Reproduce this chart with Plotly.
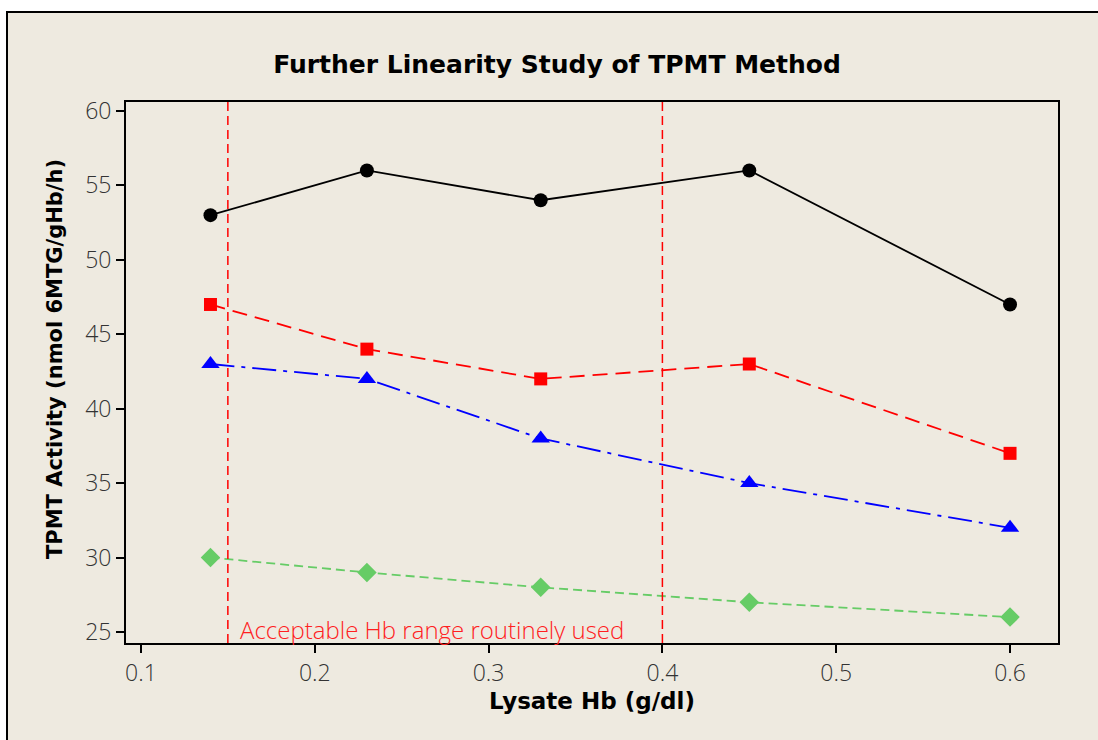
import plotly.graph_objects as go

x_vals = [0.14, 0.23, 0.33, 0.45, 0.60]
black_vals = [53, 56, 54, 56, 47]
red_vals = [47, 44, 42, 43, 37]
blue_vals = [43, 42, 38, 35, 32]
green_vals = [30, 29, 28, 27, 26]
range_lines = [0.15, 0.40]
x_ticks = [0.1, 0.2, 0.3, 0.4, 0.5, 0.6]
y_ticks = [25, 30, 35, 40, 45, 50, 55, 60]

fig = go.Figure()

series = [
    (black_vals, "black", "circle", 14, "solid"),
    (red_vals, "#FF0000", "square", 13, "15px,8px"),
    (blue_vals, "#0000FF", "triangle-up", 16, "24px,7px,4px,7px"),
    (green_vals, "#66CC66", "diamond", 15, "9px,5px"),
]
for vals, col, sym, sz, dash in series:
    fig.add_trace(go.Scatter(
        x=x_vals, y=vals, mode="lines+markers",
        line=dict(color=col, width=1.8, dash=dash),
        marker=dict(color=col, symbol=sym, size=sz, line=dict(width=0)),
        showlegend=False,
    ))

# outer beige frame
fig.add_shape(type="rect", xref="paper", yref="paper",
              x0=(7 - 126) / 932, x1=1.3, y0=-0.5, y1=(643 - 12) / 541,
              fillcolor="#EEEAE0", line=dict(color="black", width=2), layer="below")

for xv in range_lines:
    fig.add_shape(type="line", xref="x", yref="paper", x0=xv, x1=xv, y0=0, y1=1,
                  line=dict(color="#FF0000", width=1.5, dash="9px,5px"))

fig.add_annotation(x=0.156, y=25.2, xref="x", yref="y", xanchor="left", yanchor="middle",
                   text="Acceptable Hb range routinely used", showarrow=False,
                   font=dict(family="Open Sans", size=24, color="#FF2020", weight=300))

# y-axis title (placed as annotation to match reference vertical position)
fig.add_annotation(x=(55 - 126) / 932, y=(643 - 359) / 541, xref="paper", yref="paper",
                   xanchor="center", yanchor="middle", textangle=-90, showarrow=False,
                   text="<b>TPMT Activity (nmol 6MTG/gHb/h)</b>",
                   font=dict(family="DejaVu Sans", size=21, color="black"))

fig.update_layout(
    width=1098, height=740,
    margin=dict(l=126, r=40, t=102, b=97),
    paper_bgcolor="white", plot_bgcolor="white",
    title=dict(text="<b>Further Linearity Study of TPMT Method</b>", x=557 / 1098, xanchor="center",
               y=1 - 64 / 740, yanchor="middle",
               font=dict(family="DejaVu Sans", size=25, color="black")),
    xaxis=dict(range=[0.0914, 0.6276], tickvals=x_ticks, ticktext=[str(v) for v in x_ticks],
               showgrid=False, zeroline=False, showline=True, linecolor="black", linewidth=2,
               mirror=True, ticks="outside", ticklen=8, tickwidth=1.5, tickcolor="black",
               tickfont=dict(family="Open Sans", size=23, color="#333333", weight=300),
               title=dict(text="<b>Lysate Hb (g/dl)</b>", standoff=6,
                          font=dict(family="DejaVu Sans", size=23, color="black"))),
    yaxis=dict(range=[24.26, 60.6], tickvals=y_ticks,
               showgrid=False, zeroline=False, showline=True, linecolor="black", linewidth=2,
               mirror=True, ticks="outside", ticklen=8, tickwidth=1.5, tickcolor="black",
               tickfont=dict(family="Open Sans", size=23, color="#333333", weight=300)),
)

fig.write_html("out.html")
